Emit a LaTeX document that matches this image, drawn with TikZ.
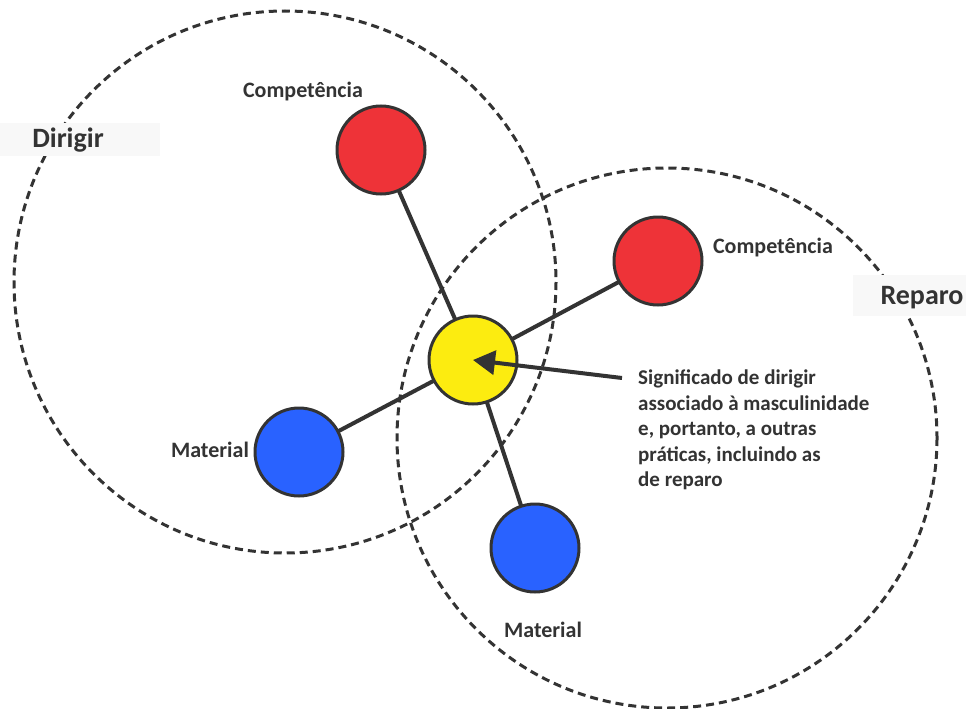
\documentclass[tikz,border=0pt]{standalone}
\usepackage{fontspec}
\setmainfont{Carlito}
\usetikzlibrary{arrows.meta}
\pgfdeclarelayer{back}
\pgfdeclarelayer{links}
\pgfsetlayers{back,links,main}
\definecolor{ink}{HTML}{333333}
\definecolor{dotred}{HTML}{EE3338}
\definecolor{dotblue}{HTML}{2962FF}
\definecolor{dotyellow}{HTML}{FCEC10}
\definecolor{tagbg}{HTML}{F8F8F8}
\tikzset{
  zone/.style={draw=ink, line width=3pt, dash pattern=on 8pt off 5pt},
  dot/.style={circle, draw=ink, line width=3pt, minimum size=88pt, inner sep=0pt},
  link/.style={draw=ink, line width=4pt},
  lbl/.style={text=ink, font=\bfseries\fontsize{22}{26}\selectfont, inner sep=0pt},
  zonelbl/.style={text=ink, font=\bfseries\fontsize{28}{32}\selectfont, inner sep=0pt},
}
\begin{document}
\begin{tikzpicture}[x=1pt,y=-1pt]
  \useasboundingbox (0,0) rectangle (966,709);

  \begin{pgfonlayer}{back}
    \fill[white] (0,0) rectangle (966,709);
    % the two dashed zones
    \draw[zone] (285,282) circle[radius=271];
    \draw[zone] (667,438) circle[radius=270];
    % label backdrops, covering the dashed outline
    \fill[tagbg] (0,123) rectangle (160,156);
    \fill[tagbg] (853,275) rectangle (966,316);
  \end{pgfonlayer}

  % circles
  \node[dot, fill=dotyellow] (y)  at (473,360) {};
  \node[dot, fill=dotred]    (r1) at (381,150) {};
  \node[dot, fill=dotred]    (r2) at (658,261) {};
  \node[dot, fill=dotblue]   (b1) at (299,452) {};
  \node[dot, fill=dotblue]   (b2) at (535,548) {};

  % connectors from the centre circle
  \begin{pgfonlayer}{links}
    \draw[link] (y.center) -- (r1.center);
    \draw[link] (y.center) -- (r2.center);
    \draw[link] (y.center) -- (b1.center);
    \draw[link] (y.center) -- (b2.center);
  \end{pgfonlayer}

  % labels
  \node[lbl] (lr1) at (303,92)  {Competência};
  \node[lbl] (lr2) at (773,248) {Competência};
  \node[lbl] (lb1) at (210,450) {Material};
  \node[lbl] (lb2) at (543,630) {Material};
  \node[zonelbl] (zd) at (68,140) {Dirigir};
  \node[zonelbl] (zr) at (922,298) {Reparo};

  % explanatory note with arrow
  \node[lbl, anchor=north west, align=left, font=\bfseries\fontsize{21}{25.5}\selectfont] (note) at (638,370)
    {Significado de dirigir\\associado à masculinidade\\e, portanto, a outras\\práticas, incluindo as\\de reparo};
  \coordinate (tail) at (622,378);
  \draw[ink, line width=4pt, -{Triangle[length=22pt,width=24pt]}] (tail) -- (y.center);
\end{tikzpicture}
\end{document}
